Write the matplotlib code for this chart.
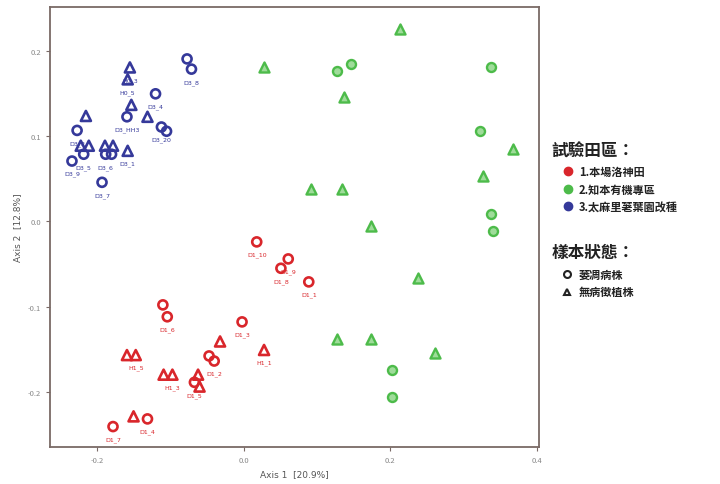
import numpy as np
import matplotlib.pyplot as plt
from matplotlib.lines import Line2D

plt.rcParams['font.family'] = ['Noto Sans CJK TC', 'DejaVu Sans']

# group 1: 本場洛神田 (red)
g1_x = [0.018, 0.061, 0.051, 0.089, -0.110, -0.104, -0.002, -0.032, 0.028, -0.047, -0.040,
        -0.159, -0.147, -0.109, -0.097, -0.062, -0.067, -0.060, -0.178, -0.150, -0.131]
g1_y = [-0.024, -0.044, -0.055, -0.071, -0.098, -0.112, -0.118, -0.141, -0.151, -0.158, -0.164,
        -0.157, -0.157, -0.180, -0.180, -0.180, -0.189, -0.194, -0.241, -0.229, -0.232]
g1_m = ['o', 'o', 'o', 'o', 'o', 'o', 'o', '^', '^', 'o', 'o',
        '^', '^', '^', '^', '^', 'o', '^', 'o', '^', 'o']
g1_lab = ['D1_10', 'D1_9', 'D1_8', 'D1_1', '', 'D1_6', 'D1_3', '', 'H1_1', '', 'D1_2',
          '', 'H1_5', '', 'H1_3', '', 'D1_5', '', 'D1_7', '', 'D1_4']

# group 2: 知本有機專區 (green)
g2_x = [0.214, 0.028, 0.127, 0.147, 0.137, 0.337, 0.322, 0.367, 0.326, 0.092,
        0.134, 0.337, 0.340, 0.174, 0.238, 0.127, 0.174, 0.261, 0.202, 0.202]
g2_y = [0.226, 0.182, 0.177, 0.185, 0.146, 0.181, 0.106, 0.085, 0.053, 0.038,
        0.038, 0.009, -0.011, -0.005, -0.067, -0.138, -0.138, -0.155, -0.175, -0.206]
g2_m = ['^', '^', 'o', 'o', '^', 'o', 'o', '^', '^', '^',
        '^', 'o', 'o', '^', '^', '^', '^', '^', 'o', 'o']

# group 3: 太麻里荖葉園改種 (blue)
g3_x = [-0.155, -0.158, -0.077, -0.071, -0.120, -0.153, -0.159, -0.131, -0.112, -0.105, -0.215,
        -0.227, -0.222, -0.211, -0.218, -0.234, -0.189, -0.178, -0.188, -0.180, -0.158, -0.193]
g3_y = [0.181, 0.167, 0.191, 0.179, 0.150, 0.137, 0.123, 0.123, 0.111, 0.106, 0.124,
        0.107, 0.089, 0.089, 0.079, 0.071, 0.089, 0.089, 0.079, 0.079, 0.083, 0.046]
g3_m = ['^', '^', 'o', 'o', 'o', '^', 'o', '^', 'o', 'o', '^',
        'o', '^', '^', 'o', 'o', '^', '^', 'o', 'o', '^', 'o']
g3_lab = ['H0_3', 'H0_5', '', 'D3_8', 'D3_4', '', 'D3_HH3', '', 'D3_20', '', '',
          'D3_2', '', '', 'D3_5', 'D3_9', '', '', 'D3_6', '', 'D3_1', 'D3_7']

x_ticks = [-0.2, 0.0, 0.2, 0.4]
y_ticks = [-0.2, -0.1, 0.0, 0.1, 0.2]

red = '#d9262b'
green = '#4dbb4a'
blue = '#35399a'

fig = plt.figure(figsize=(7.2, 4.85), dpi=100)
ax = fig.add_axes([0.0694, 0.0763, 0.6792, 0.9072])

def draw_group(xs, ys, ms, col, face, lw, labels=None):
    for i in range(len(xs)):
        sz = 52 if ms[i] == '^' else 42
        ax.scatter(xs[i], ys[i], marker=ms[i], s=sz, facecolors=face,
                   edgecolors=col, linewidths=lw, zorder=3)
        if labels and labels[i]:
            ax.annotate(labels[i], (xs[i], ys[i]), xytext=(0, -7),
                        textcoords='offset points', ha='center', va='top',
                        fontsize=4.5, color=col, family='DejaVu Sans', zorder=4)

draw_group(g1_x, g1_y, g1_m, red, 'none', 1.9, g1_lab)
draw_group(g2_x, g2_y, g2_m, green, '#9fdc9a', 1.7)
draw_group(g3_x, g3_y, g3_m, blue, 'none', 1.9, g3_lab)

ax.set_xlim(-0.264, 0.403)
ax.set_ylim(-0.265, 0.252)
ax.set_xticks(x_ticks)
ax.set_yticks(y_ticks)
ax.set_xticklabels([f'{v:.1f}' for v in x_ticks])
ax.set_yticklabels([f'{v:.1f}' for v in y_ticks])
ax.tick_params(labelsize=5.5, labelcolor='#888888', color='#7a6a66', length=3)
for sp in ax.spines.values():
    sp.set_color('#7a6a66')
    sp.set_linewidth(1.3)

ax.set_xlabel('Axis 1  [20.9%]', fontsize=6.5, color='#555555', family='DejaVu Sans')
ax.set_ylabel('Axis 2  [12.8%]', fontsize=6.5, color='#555555', family='DejaVu Sans')

# legend block on the right
fig.text(0.766, 0.687, '試驗田區：', fontsize=12, fontweight='bold', va='center', color='#222222')
fields = ['1.本場洛神田', '2.知本有機專區', '3.太麻里荖葉園改種']
cols = [red, green, blue]
ys = [0.645, 0.608, 0.573]
for t, c, yy in zip(fields, cols, ys):
    fig.add_artist(Line2D([0.789], [yy], marker='o', color=c, markersize=6,
                          linestyle='none', transform=fig.transFigure))
    fig.text(0.804, yy, t, fontsize=8, fontweight='bold', va='center', color='#222222')

fig.text(0.766, 0.478, '樣本狀態：', fontsize=12, fontweight='bold', va='center', color='#222222')
states = ['萎凋病株', '無病徵植株']
marks = ['o', '^']
ys2 = [0.433, 0.396]
for t, m, yy in zip(states, marks, ys2):
    fig.add_artist(Line2D([0.787], [yy], marker=m, color='#222222', markerfacecolor='none',
                          markeredgewidth=1.5, markersize=5, linestyle='none',
                          transform=fig.transFigure))
    fig.text(0.804, yy, t, fontsize=8, fontweight='bold', va='center', color='#222222')

fig.savefig('out.png', dpi=100)
